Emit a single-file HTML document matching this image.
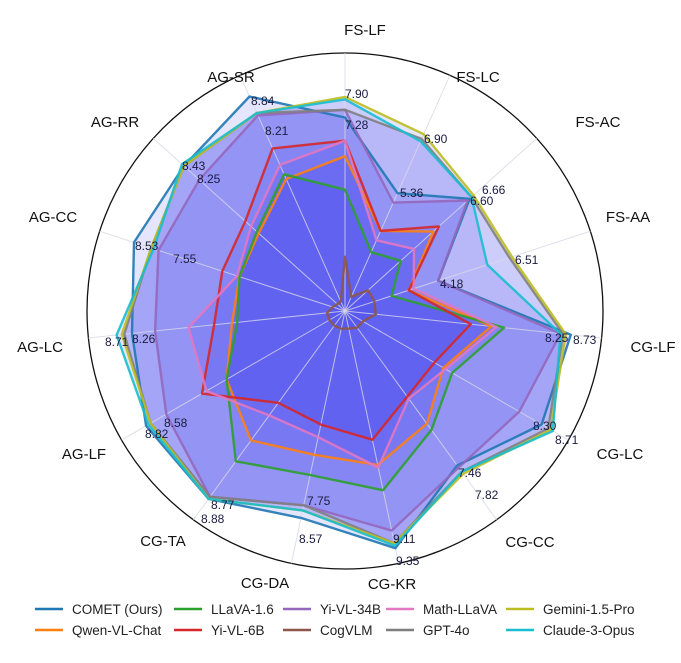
<!DOCTYPE html>
<html><head><meta charset="utf-8"><style>
html,body{margin:0;padding:0;background:#fff;}
svg{display:block;font-family:"Liberation Sans",sans-serif;}
.lab{font-size:15px;fill:#111;}
.ann{font-size:12px;fill:#1a1a40;}
.leg{font-size:13.5px;fill:#222;}
</style></head><body>
<svg id="chart" width="681" height="663" viewBox="0 0 681 663" xmlns="http://www.w3.org/2000/svg">
<g id="grid"></g>
<g id="fills"></g>
<g id="spokes"></g>
<g id="lines"></g>
<g id="anns"></g>
<g id="labels"></g>
<g id="legend"></g>
</svg>
<script>
const categories = ["FS-LF","FS-LC","FS-AC","FS-AA","CG-LF","CG-LC","CG-CC","CG-KR","CG-DA","CG-TA","AG-LF","AG-LC","AG-CC","AG-RR","AG-SR"];
const seriesNames = ["COMET (Ours)","Qwen-VL-Chat","LLaVA-1.6","Yi-VL-6B","Yi-VL-34B","CogVLM","Math-LLaVA","GPT-4o","Gemini-1.5-Pro","Claude-3-Opus"];
const seriesColors = ["#1f77b4","#ff7f0e","#2ca02c","#d62728","#9467bd","#8c564b","#e377c2","#7f7f7f","#bcbd22","#17becf"];
const cometVals  = [0.75,0.50,0.65,0.38,0.88,0.88,0.74,0.94,0.82,0.90,0.89,0.83,0.86,0.84,0.91];
const qwenVals   = [0.60,0.34,0.46,0.26,0.57,0.44,0.54,0.61,0.57,0.62,0.53,0.44,0.43,0.45,0.56];
const llavaVals  = [0.47,0.25,0.29,0.19,0.62,0.48,0.57,0.71,0.65,0.72,0.53,0.42,0.43,0.46,0.58];
const yi6Vals    = [0.66,0.34,0.49,0.26,0.49,0.40,0.41,0.51,0.45,0.44,0.64,0.51,0.50,0.52,0.69];
const yi34Vals   = [0.78,0.46,0.64,0.38,0.84,0.78,0.75,0.87,0.77,0.89,0.80,0.74,0.76,0.76,0.83];
const cogVals    = [0.21,0.06,0.12,0.12,0.12,0.08,0.08,0.07,0.07,0.07,0.07,0.07,0.05,0.04,0.04];
const mathVals   = [0.66,0.30,0.36,0.28,0.59,0.45,0.42,0.62,0.50,0.50,0.62,0.61,0.44,0.49,0.62];
const gptVals    = [0.78,0.73,0.66,0.67,0.85,0.91,0.77,0.92,0.77,0.89,0.87,0.86,0.79,0.84,0.84];
const geminiVals = [0.83,0.75,0.67,0.68,0.86,0.92,0.78,0.92,0.79,0.90,0.87,0.87,0.79,0.84,0.84];
const claudeVals = [0.82,0.72,0.66,0.58,0.84,0.93,0.77,0.93,0.79,0.90,0.88,0.89,0.78,0.85,0.84];
const allSeries = [cometVals,qwenVals,llavaVals,yi6Vals,yi34Vals,cogVals,mathVals,gptVals,geminiVals,claudeVals];
const annTexts = ["7.90","7.28","8.84","8.21","6.90","8.43","8.25","5.36","6.66","6.60","8.53","7.55","6.51","4.18","8.25","8.73","8.71","8.26","8.30","8.71","8.58","8.82","7.46","7.82","8.77","8.88","7.75","8.57","9.11","9.35"];

const NS="http://www.w3.org/2000/svg";
const CX=345, CY=311, R=258;
function ang(i){return (90-24*i)*Math.PI/180;}
function px(i,v){return CX+Math.cos(ang(i))*v*R;}
function py(i,v){return CY-Math.sin(ang(i))*v*R;}
function mk(tag,parent){const e=document.createElementNS(NS,tag);parent.appendChild(e);return e;}

const grid=document.getElementById('grid');
const circ=mk('circle',grid);


circ.setAttribute('cx',CX);circ.setAttribute('cy',CY);circ.setAttribute('r',R);
circ.setAttribute('fill','none');circ.setAttribute('stroke','#111');circ.setAttribute('stroke-width','1.3');

const spokes=document.getElementById('spokes');
categories.forEach((c,i)=>{
  const l=mk('line',spokes);
  
  
  l.setAttribute('x1',CX);l.setAttribute('y1',CY);l.setAttribute('x2',px(i,1));l.setAttribute('y2',py(i,1));
  l.setAttribute('stroke','#d8d8e8');l.setAttribute('stroke-width','1');l.setAttribute('opacity','0.8');
});

const fills=document.getElementById('fills'), lines=document.getElementById('lines');
allSeries.forEach((vals,s)=>{
  const pts=vals.map((v,i)=>px(i,v).toFixed(1)+','+py(i,v).toFixed(1)).join(' ');
  const f=mk('polygon',fills);
  
  
  f.setAttribute('points',pts);f.setAttribute('fill','#1010f0');f.setAttribute('fill-opacity','0.11');
  const p=mk('polygon',lines);
  
  
  p.setAttribute('points',pts);p.setAttribute('fill','none');p.setAttribute('stroke',seriesColors[s]);
  p.setAttribute('stroke-width','2.4');p.setAttribute('stroke-linejoin','round');p.setAttribute('opacity','0.9');
});

const annPos=[[345,94],[345,125],[251,101],[265,131],[424,139],[182,166],[197,179],[400,193],[482,190],[470,201],[135,246],[173,259],[515,260],[440,284],[545,338],[573,340],[105,342],[132,339],[533,426],[555,440],[164,423],[145,434],[458,473],[475,495],[211,505],[201,519],[307,501],[299,539],[393,539],[396,561]];
const anns=document.getElementById('anns');
annTexts.forEach((t,k)=>{
  const e=mk('text',anns);
  
  
  e.setAttribute('class','ann');e.setAttribute('x',annPos[k][0]);e.setAttribute('y',annPos[k][1]+4);
  e.textContent=t;
});

const labPos=[[365,30],[478,77],[598,122],[628,217],[653,347],[620,454],[530,542],[392,584],[265,583],[163,541],[84,454],[40,347],[53,217],[115,122],[231,77]];
const labels=document.getElementById('labels');
categories.forEach((c,i)=>{
  const e=mk('text',labels);
  
  
  e.setAttribute('class','lab');e.setAttribute('x',labPos[i][0]);e.setAttribute('y',labPos[i][1]+5);
  e.setAttribute('text-anchor','middle');
  e.textContent=c;
});

const legend=document.getElementById('legend');
const legCols=[35,174,283,386,506];
const legOrder=[0,2,4,6,8,1,3,5,7,9];
legOrder.forEach((s,k)=>{
  const col=k%5,row=Math.floor(k/5);
  const x=legCols[col],y=609+row*21;
  const g=mk('g',legend);
  
  
  const l=mk('line',g);
  l.setAttribute('x1',x);l.setAttribute('x2',x+28);l.setAttribute('y1',y);l.setAttribute('y2',y);
  l.setAttribute('stroke',seriesColors[s]);l.setAttribute('stroke-width','2.6');
  const t=mk('text',g);
  t.setAttribute('class','leg');t.setAttribute('x',x+37);t.setAttribute('y',y+5);
  t.textContent=seriesNames[s];
});
</script>
</body></html>
